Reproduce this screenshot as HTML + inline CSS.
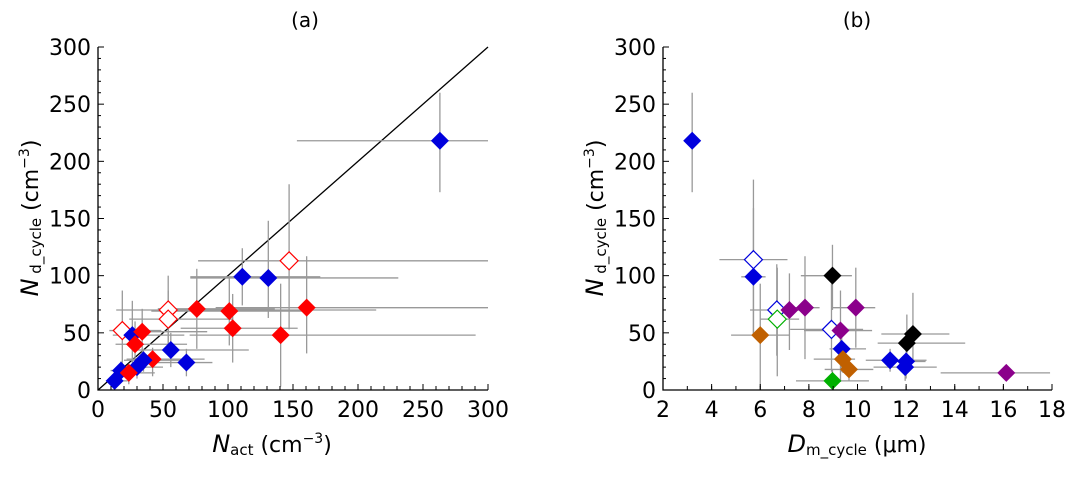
<!DOCTYPE html>
<html><head><meta charset="utf-8"><style>
body{margin:0;background:#fff;width:1075px;height:475px;overflow:hidden}
svg text{font-family:"DejaVu Sans","Liberation Sans",sans-serif;fill:#000}
</style></head><body>
<svg id="s" width="1075" height="475"></svg>
<script>
// Panel (a): Nact vs Nd_cycle
const aX=[263,147,111,131,76,101,160.5,54,54,103.6,140.5,18.7,26.4,34,28.5,56,68,42,35,30,17.7,23.7,12.8];
const aY=[218,113,99,98,71,69,72,70,62,54,48,52,48,51,40,35,24,27,26,20,17,15,8];
const aC=['b','ro','b','b','r','r','r','ro','ro','r','r','ro','b','r','r','b','b','r','b','b','b','r','b'];
const aXlo=[110,70,40,60,30,60,70,40,30,40,70,10,15,15,15,30,40,20,15,15,8,10,5];
const aXhi=[110,260,60,100,60,60,150,160,50,50,150,30,40,50,40,60,20,40,30,20,15,20,10];
const aYlo=[45,60,25,35,35,30,40,30,25,30,45,30,25,25,20,15,12,15,10,10,10,10,8];
const aYhi=[42,67,25,50,35,30,45,30,25,30,45,35,30,20,20,15,12,10,10,8,8,8,10];
// Panel (b): Dm_cycle vs Nd_cycle
const bX=[3.2,5.72,5.72,6.68,6.7,6.0,7.2,7.84,8.97,8.93,9.3,9.35,9.4,9.65,8.97,9.93,12.03,12.28,11.34,11.96,12.0,16.12];
const bY=[218,114,99,70,62,48,70,72,100,53,52,36,27,18,8,72,41,49,26,20,25,15];
const bC=['#0000dd','bo','#0000dd','bo','go','#c06000','#8b008b','#8b008b','#000','bo','#8b008b','#0000dd','#c06000','#c06000','#00b000','#8b008b','#000','#000','#0000dd','#0000dd','#0000dd','#8b008b'];
const bXlo=[0.3,1.4,0.5,1.1,0.7,1.2,0.8,1.3,1.3,1.7,1.5,0.5,1.2,1.0,1.5,1.0,1.2,1.3,1.0,1.3,0.8,2.7];
const bXhi=[0.3,1.4,0.5,1.4,0.9,1.2,0.7,0.6,0.8,1.3,1.3,1.0,0.5,1.0,1.5,0.8,2.4,1.5,1.5,1.3,0.8,1.8];
const bYlo=[45,65,50,40,50,45,35,45,30,37,45,20,12,10,8,35,20,25,10,12,15,5];
const bYhi=[42,70,60,40,45,45,32,45,27,40,35,15,10,10,10,35,25,36,10,8,10,5];
const yTicks=[0,50,100,150,200,250,300];
const aTicks=[0,50,100,150,200,250,300];
const bTicks=[2,4,6,8,10,12,14,16,18];

const NS='http://www.w3.org/2000/svg',S=document.getElementById('s');
function el(t,a,p){const e=document.createElementNS(NS,t);for(const k in a)e.setAttribute(k,a[k]);(p||S).appendChild(e);return e;}
const Y=v=>390-v*343/300;
const XA=v=>98+v*390/300;
const XB=v=>663+(v-2)*389/16;
const col={b:'#0000dd',r:'#ff0000',ro:'#ff0000',bo:'#0000dd',go:'#00b000'};

function axes(g,X,ticks,x0,x1,minorStep,lo){
  const ax=el('path',{d:`M${x0},${Y(300)}V390H${x1}`,stroke:'#000',fill:'none','stroke-width':1.3},g);
  
  yTicks.forEach(v=>{el('line',{x1:x0,x2:x0+6,y1:Y(v),y2:Y(v),stroke:'#000'},g);
    const t=el('text',{x:x0-7,y:Y(v)+8,'text-anchor':'end','font-size':22},g);t.textContent=v;
    });
  for(let v=10;v<300;v+=10) if(v%50) el('line',{x1:x0,x2:x0+3,y1:Y(v),y2:Y(v),stroke:'#000'},g);
  ticks.forEach(v=>{el('line',{x1:X(v),x2:X(v),y1:390,y2:384,stroke:'#000'},g);
    const t=el('text',{x:X(v),y:417,'text-anchor':'middle','font-size':22},g);t.textContent=v;
    });
  for(let v=lo;v<ticks[ticks.length-1];v+=minorStep) el('line',{x1:X(v),x2:X(v),y1:390,y2:386,stroke:'#000'},g);
}
function pts(g,X,xs,ys,cs,xl,xh,yl,yh,name){
  xs.forEach((x,i)=>{
    el('line',{x1:X(x-xl[i]),x2:Math.min(X(x+xh[i]),name==='a'?488:1052),y1:Y(ys[i]),y2:Y(ys[i]),stroke:'#999','stroke-width':1.3},g);
    el('line',{x1:X(x),x2:X(x),y1:Y(ys[i]-yl[i]),y2:Y(ys[i]+yh[i]),stroke:'#999','stroke-width':1.3},g);
  });
  xs.forEach((x,i)=>{
    const c=cs[i],open=c.length===2&&c.endsWith('o'),fc=col[c]||c;
    const cx=X(x),cy=Y(ys[i]),r=9;
    const p=el('path',{d:`M${cx},${cy-r}L${cx+r},${cy}L${cx},${cy+r}L${cx-r},${cy}Z`,fill:open?'#fff':fc,stroke:fc,'stroke-width':open?1.2:0},g);
    
    
  });
}
const ga=el('g',{});
el('line',{x1:XA(0),y1:Y(0),x2:XA(300),y2:Y(300),stroke:'#000','stroke-width':1.3},ga);
pts(ga,XA,aX,aY,aC,aXlo,aXhi,aYlo,aYhi,'a');
axes(ga,XA,aTicks,98,488,10,10);
let t=el('text',{x:305,y:27,'text-anchor':'middle','font-size':20},ga);t.textContent='(a)';
t=el('text',{x:272,y:452,'text-anchor':'middle','font-size':22},ga);t.innerHTML='<tspan font-style="italic" font-size="24">N</tspan><tspan font-size="15" dy="3">act</tspan><tspan dy="-3">  (cm</tspan><tspan font-size="14" dy="-9">−3</tspan><tspan dy="9">)</tspan>';

t=el('text',{transform:'translate(38,218) rotate(-90)','text-anchor':'middle','font-size':22},ga);t.innerHTML='<tspan font-style="italic" font-size="24">N</tspan><tspan font-size="15" dy="3"> d_cycle</tspan><tspan dy="-3">  (cm</tspan><tspan font-size="14" dy="-9">−3</tspan><tspan dy="9">)</tspan>';


const gb=el('g',{});
pts(gb,XB,bX,bY,bC,bXlo,bXhi,bYlo,bYhi,'b');
axes(gb,XB,bTicks,663,1052,1,3);
t=el('text',{x:857,y:27,'text-anchor':'middle','font-size':20},gb);t.textContent='(b)';
t=el('text',{x:857,y:452,'text-anchor':'middle','font-size':22},gb);t.innerHTML='<tspan font-style="italic" font-size="24">D</tspan><tspan font-size="15" dy="3">m_cycle</tspan><tspan dy="-3">  (μm)</tspan>';

t=el('text',{transform:'translate(603,218) rotate(-90)','text-anchor':'middle','font-size':22},gb);t.innerHTML='<tspan font-style="italic" font-size="24">N</tspan><tspan font-size="15" dy="3"> d_cycle</tspan><tspan dy="-3">  (cm</tspan><tspan font-size="14" dy="-9">−3</tspan><tspan dy="9">)</tspan>';

</script>
</body></html>
